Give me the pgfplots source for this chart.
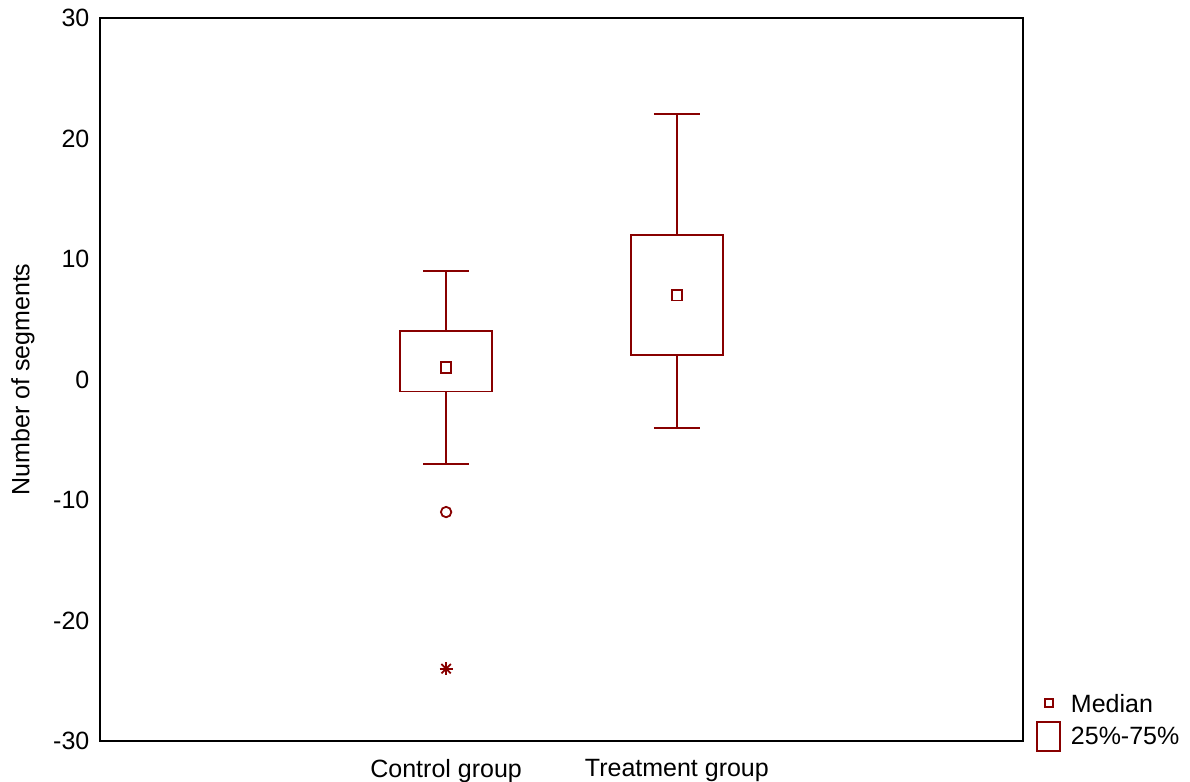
\documentclass[border=0pt]{standalone}
\usepackage{pgfplots}
\pgfplotsset{compat=1.18}
\usepgfplotslibrary{statistics}
\usepackage{fontspec}
\setmainfont{Liberation Sans}
\definecolor{boxred}{RGB}{136,0,0}
\begin{document}
\begin{tikzpicture}
\begin{axis}[
  width=461.5pt, height=361.5pt,
  scale only axis,
  font=\fontsize{12.5}{15}\selectfont,
  xmin=-0.5, xmax=3.5,
  ymin=-30, ymax=30,
  ytick={-30,-20,...,30},
  xtick={1,2},
  xticklabels={Control group, Treatment group},
  major tick length=0pt,
  axis line style={line width=0.9pt},
  /pgf/number format/assume math mode=true,
  yticklabel style={xshift=-1.8pt},
  xticklabel style={yshift=-5.8pt},
  ylabel={Number of segments},
  ylabel style={yshift=2.5pt},
  clip=false,
  legend style={at={(1,0)}, anchor=south west, draw=none, fill=none,
    font=\fontsize{12.5}{15}\selectfont,
    inner sep=0pt, nodes={inner sep=0pt, text depth=0pt},
    column sep=5pt, row sep=4.2pt,
    xshift=6.5pt, yshift=-5.5pt},
  legend cell align=left,
  boxplot/draw direction=y,
  boxplot/draw/median/.code={},
]
\addlegendimage{legend image code/.code={
  \draw[boxred, line width=0.9pt] (0.16cm,-0.07cm) rectangle (0.30cm,0.07cm);}}
\addlegendimage{legend image code/.code={
  \draw[boxred, line width=0.9pt] (0.03cm,-0.255cm) rectangle (0.43cm,0.255cm);}}
\legend{Median, 25\%-75\%}

\addplot[boxred, line width=0.95pt, solid, boxplot prepared={
  draw position=1,
  lower whisker=-7, lower quartile=-1, median=1,
  upper quartile=4, upper whisker=9,
  box extend=0.4, whisker extend=0.2}] coordinates {};
\addplot[boxred, line width=0.95pt, solid, boxplot prepared={
  draw position=2,
  lower whisker=-4, lower quartile=2, median=7,
  upper quartile=12, upper whisker=22,
  box extend=0.4, whisker extend=0.2}] coordinates {};

% medians
\addplot[only marks, mark=square, mark size=2.65pt, boxred, line width=0.95pt]
  coordinates {(1,1) (2,7)};
% outlier and extreme
\addplot[only marks, mark=o, mark size=2.6pt, boxred, line width=0.9pt]
  coordinates {(1,-11)};
\addplot[only marks, mark=+, mark size=3.3pt, boxred, line width=0.9pt]
  coordinates {(1,-24)};
\addplot[only marks, mark=x, mark size=3.3pt, boxred, line width=0.9pt]
  coordinates {(1,-24)};
\end{axis}
\pgfresetboundingbox
\path ([xshift=-50pt,yshift=-20.5pt]current axis.south west)
  rectangle ([xshift=83.5pt,yshift=9pt]current axis.north east);
\end{tikzpicture}
\end{document}
